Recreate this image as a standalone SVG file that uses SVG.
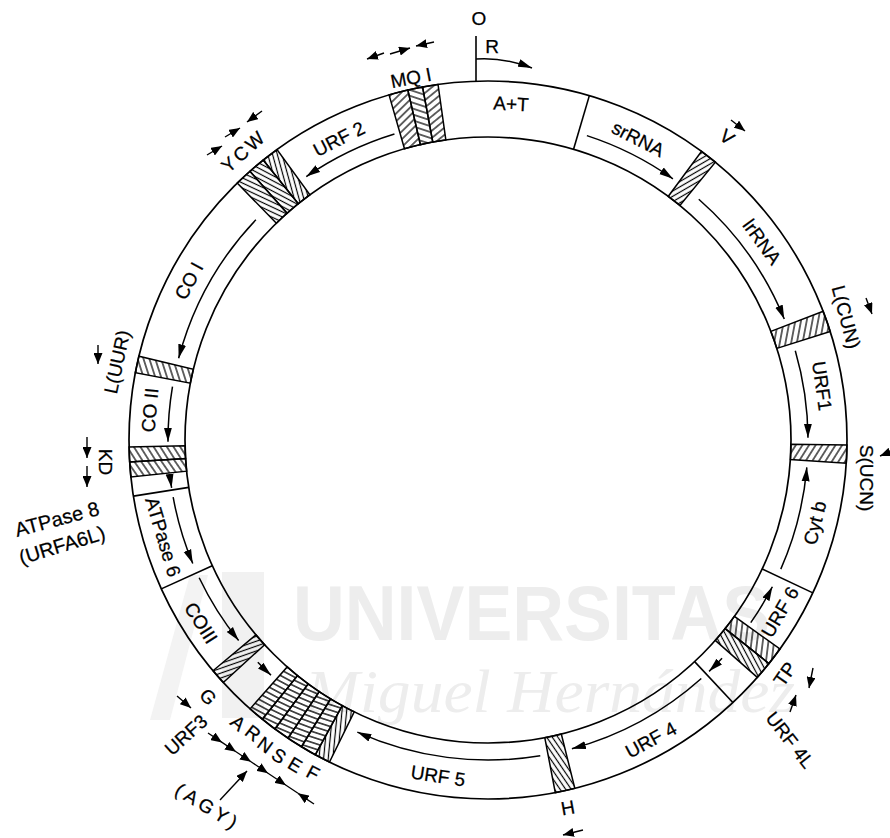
<svg xmlns="http://www.w3.org/2000/svg" width="890" height="838" viewBox="0 0 890 838">
<style>
.ring{fill:none;stroke:#000;stroke-width:1.7}
.st{stroke:#000;stroke-width:1.5}
.bd{fill:none;stroke:#000;stroke-width:1.6}
.ar{fill:none;stroke:#000;stroke-width:1.5;marker-end:url(#mb)}
.sa{fill:none;stroke:#000;stroke-width:1.4;marker-end:url(#ms)}
.t{font-family:"Liberation Sans",Arial,Helvetica,sans-serif;font-size:19px;fill:#000;stroke:#000;stroke-width:0.25;text-anchor:middle;dominant-baseline:central}
.wm{fill:#ededed}
</style>
<defs>
<marker id="mb" markerUnits="userSpaceOnUse" markerWidth="14" markerHeight="9" viewBox="0 0 14 9" refX="14" refY="4.5" orient="auto"><path d="M0,0.5 L14,4.5 L0,8.5 Z" fill="#000"/></marker>
<marker id="ms" markerUnits="userSpaceOnUse" markerWidth="11" markerHeight="9" viewBox="0 0 11 9" refX="11" refY="4.5" orient="auto"><path d="M0,0 L11,4.5 L0,9 Z" fill="#000"/></marker>
<pattern id="pA" patternUnits="userSpaceOnUse" width="4.6" height="10" patternTransform="rotate(22)"><line x1="2.3" y1="0" x2="2.3" y2="10" stroke="#000" stroke-width="1.2"/></pattern>
<pattern id="pB" patternUnits="userSpaceOnUse" width="4.6" height="10" patternTransform="rotate(-22)"><line x1="2.3" y1="0" x2="2.3" y2="10" stroke="#000" stroke-width="1.2"/></pattern>
<pattern id="pC" patternUnits="userSpaceOnUse" width="10" height="5.6" patternTransform="rotate(-30)"><line x1="0" y1="2.8" x2="10" y2="2.8" stroke="#000" stroke-width="1.2"/></pattern>
<pattern id="pD" patternUnits="userSpaceOnUse" width="10" height="5.6" patternTransform="rotate(30)"><line x1="0" y1="2.8" x2="10" y2="2.8" stroke="#000" stroke-width="1.2"/></pattern>
<pattern id="pE" patternUnits="userSpaceOnUse" width="10" height="5.2" patternTransform="rotate(-12)"><line x1="0" y1="2.6" x2="10" y2="2.6" stroke="#000" stroke-width="1.3"/></pattern>
<path id="s120" d="M480.48,81.1 A359,359 0 0 1 495.52,81.1 L494.35,137.1 A303,303 0 0 0 481.65,137.1 Z"/>
<path id="s125" d="M480.17,81.1 A359,359 0 0 1 495.83,81.1 L494.61,137.1 A303,303 0 0 0 481.39,137.1 Z"/>
<path id="s1275" d="M480.01,81.1 A359,359 0 0 1 495.99,81.1 L494.74,137.1 A303,303 0 0 0 481.26,137.1 Z"/>
<path id="s135" d="M479.54,81.1 A359,359 0 0 1 496.46,81.1 L495.14,137.1 A303,303 0 0 0 480.86,137.1 Z"/>
<path id="s1385" d="M479.32,81.1 A359,359 0 0 1 496.68,81.1 L495.32,137.1 A303,303 0 0 0 480.68,137.1 Z"/>
<path id="s140" d="M479.23,81.1 A359,359 0 0 1 496.77,81.1 L495.40,137.1 A303,303 0 0 0 480.60,137.1 Z"/>
<path id="s145" d="M478.92,81.1 A359,359 0 0 1 497.08,81.1 L495.67,137.1 A303,303 0 0 0 480.33,137.1 Z"/>
<path id="s155" d="M478.29,81.1 A359,359 0 0 1 497.71,81.1 L496.20,137.1 A303,303 0 0 0 479.80,137.1 Z"/>
<path id="s160" d="M477.98,81.1 A359,359 0 0 1 498.02,81.1 L496.46,137.1 A303,303 0 0 0 479.54,137.1 Z"/>
<path id="s170" d="M477.35,81.1 A359,359 0 0 1 498.65,81.1 L496.99,137.1 A303,303 0 0 0 479.01,137.1 Z"/>
</defs>
<rect width="890" height="838" fill="#fff"/>
<g id="watermark">
<rect x="222" y="572" width="42" height="146" fill="#f1f1f1"/>
<polygon points="150,720 190,575 208,575 170,720" fill="#f3f3f3"/>
<text x="293" y="640" font-family="Liberation Sans, Arial, sans-serif" font-weight="bold" font-size="78" textLength="477" lengthAdjust="spacingAndGlyphs" class="wm">UNIVERSITAS</text>
<text x="305" y="712" font-family="Liberation Serif, Times New Roman, serif" font-style="italic" font-size="62" textLength="490" lengthAdjust="spacingAndGlyphs" class="wm">Miguel Hernández</text>
</g>
<g id="ring">
<circle cx="488" cy="440" r="359" class="ring"/>
<circle cx="488" cy="440" r="303" class="ring"/>
</g>
<g id="boundaries">
<path class="bd" d="M573.55,149.33 L589.36,95.61"/>
<path class="bd" d="M762.16,569.01 L812.83,592.85"/>
<path class="bd" d="M694.65,661.60 L732.84,702.55"/>
<path class="bd" d="M212.27,565.65 L161.31,588.87"/>
<path class="bd" d="M188.73,487.40 L133.42,496.16"/>
</g>
<g id="origin">
<path class="bd" d="M476,36 L476,81"/>
<text class="t" transform="translate(479 18)">O</text>
<text class="t" transform="translate(492 46)">R</text>
</g>
<g id="trna-MQI">
<use href="#s155" class="st" fill="url(#pC)" transform="rotate(-14.45 488 440)"/>
<use href="#s120" class="st" fill="url(#pD)" transform="rotate(-11.7 488 440)"/>
<use href="#s125" class="st" fill="url(#pC)" transform="rotate(-9.25 488 440)"/>
<text class="t" transform="translate(411 78) rotate(-11)">MQ I</text>
</g>
<g id="AT"><text class="t" transform="translate(511 104) rotate(3)">A+T</text></g>
<g id="srRNA"><text class="t" transform="translate(638 139) rotate(27)">srRNA</text></g>
<g id="trna-V">
<use href="#s140" class="st" fill="url(#pA)" transform="rotate(37.9 488 440)"/>
<text class="t" transform="translate(727 137) rotate(38)">V</text>
</g>
<g id="lrRNA"><text class="t" transform="translate(762 242) rotate(54)">lrRNA</text></g>
<g id="trna-LCUN">
<use href="#s170" class="st" fill="url(#pD)" transform="rotate(70.7 488 440)"/>
<text class="t" transform="translate(846 317) rotate(75)">L(CUN)</text>
</g>
<g id="URF1"><text class="t" transform="translate(822 386) rotate(82)">URF1</text></g>
<g id="trna-SUCN">
<use href="#s145" class="st" fill="url(#pD)" transform="rotate(92.25 488 440)"/>
<text class="t" transform="translate(866 478) rotate(90)">S(UCN)</text>
</g>
<g id="Cytb"><text class="t" transform="translate(815 523) rotate(-76)">Cyt b</text></g>
<g id="URF6"><text class="t" transform="translate(780 612) rotate(-59.5)">URF 6</text></g>
<g id="trna-TP">
<use href="#s145" class="st" fill="url(#pC)" transform="rotate(127.05 488 440)"/>
<use href="#s145" class="st" fill="url(#pA)" transform="rotate(129.95 488 440)"/>
<text class="t" transform="translate(785 674) rotate(-55)">TP</text>
</g>
<g id="URF4L"><text class="t" transform="translate(790 740) rotate(52)">URF 4L</text></g>
<g id="URF4"><text class="t" transform="translate(651 740) rotate(-28.5)">URF 4</text></g>
<g id="trna-H">
<use href="#s160" class="st" fill="url(#pB)" transform="rotate(167.6 488 440)"/>
<text class="t" transform="translate(568 808) rotate(-10)">H</text>
</g>
<g id="URF5"><text class="t" transform="translate(438 776) rotate(8.5)">URF 5</text></g>
<g id="trna-ARNSEF">
<use href="#s1275" class="st" fill="url(#pB)" transform="rotate(207.475 488 440)"/>
<use href="#s1275" class="st" fill="url(#pE)" transform="rotate(210.025 488 440)"/>
<use href="#s1275" class="st" fill="url(#pE)" transform="rotate(212.575 488 440)"/>
<use href="#s1275" class="st" fill="url(#pE)" transform="rotate(215.125 488 440)"/>
<use href="#s1275" class="st" fill="url(#pE)" transform="rotate(217.675 488 440)"/>
<use href="#s1275" class="st" fill="url(#pE)" transform="rotate(220.225 488 440)"/>
<text class="t" transform="translate(238 723) rotate(41)">A</text>
<text class="t" transform="translate(253 733) rotate(38)">R</text>
<text class="t" transform="translate(265 745) rotate(36)">N</text>
<text class="t" transform="translate(279 756) rotate(34)">S</text>
<text class="t" transform="translate(295 765) rotate(31)">E</text>
<text class="t" transform="translate(313 773) rotate(28)">F</text>
<text class="t" transform="translate(208 807) rotate(31.5)" letter-spacing="4">(AGY)</text>
</g>
<g id="URF3"><text class="t" transform="translate(186 735) rotate(-42)">URF3</text></g>
<g id="trna-G">
<use href="#s125" class="st" fill="url(#pA)" transform="rotate(228.75 488 440)"/>
<text class="t" transform="translate(208 697) rotate(48)">G</text>
</g>
<g id="COIII"><text class="t" transform="translate(201 623) rotate(57.5)">COIII</text></g>
<g id="ATPase6"><text class="t" transform="translate(163 537) rotate(73.4)">ATPase 6</text></g>
<g id="ATPase8">
<text class="t" transform="translate(57 519) rotate(-15)" style="font-size:20px">ATPase 8</text>
<text class="t" transform="translate(62 545) rotate(-17)" style="font-size:20px">(URFA6L)</text>
</g>
<g id="trna-KD">
<use href="#s120" class="st" fill="url(#pC)" transform="rotate(265.3 488 440)"/>
<use href="#s120" class="st" fill="url(#pC)" transform="rotate(267.7 488 440)"/>
<text class="t" transform="translate(105 462) rotate(90)">KD</text>
</g>
<g id="COII"><text class="t" transform="translate(150 410) rotate(-85)">CO II</text></g>
<g id="trna-LUUR">
<use href="#s135" class="st" fill="url(#pC)" transform="rotate(282.15 488 440)"/>
<text class="t" transform="translate(117 362) rotate(-78)">L(UUR)</text>
</g>
<g id="COI"><text class="t" transform="translate(189 281) rotate(-62)">CO I</text></g>
<g id="trna-YCW">
<use href="#s1385" class="st" fill="url(#pB)" transform="rotate(317.08 488 440)"/>
<use href="#s1385" class="st" fill="url(#pB)" transform="rotate(319.85 488 440)"/>
<use href="#s1385" class="st" fill="url(#pA)" transform="rotate(322.62 488 440)"/>
<text class="t" transform="translate(244 151) rotate(-42)" letter-spacing="3">YCW</text>
</g>
<g id="URF2"><text class="t" transform="translate(339 139) rotate(-27)">URF 2</text></g>
<g id="connectors">
<path class="ar" d="M586.89,135.66 A320,320 0 0 1 672.92,178.83"/>
<path class="ar" d="M698.78,199.23 A320,320 0 0 1 784.28,319.09"/>
<path class="ar" d="M795.29,350.72 A320,320 0 0 1 807.99,437.77"/>
<path class="ar" d="M780.79,569.14 A320,320 0 0 0 806.83,467.33"/>
<path class="ar" d="M750.77,622.63 A320,320 0 0 0 772.36,586.77"/>
<path class="ar" d="M722.03,658.24 A320,320 0 0 1 709.08,671.35"/>
<path class="ar" d="M701.29,678.55 A320,320 0 0 1 571.90,748.81"/>
<path class="ar" d="M540.27,755.70 A320,320 0 0 1 357.33,732.11"/>
<path class="ar" d="M257.81,662.29 A320,320 0 0 0 270.99,675.17"/>
<path class="ar" d="M199.17,577.76 A320,320 0 0 0 238.61,640.51"/>
<path class="ar" d="M173.16,497.22 A320,320 0 0 0 192.77,563.49"/>
<path class="ar" d="M169.81,474.00 A320,320 0 0 0 171.60,487.85"/>
<path class="ar" d="M172.48,386.63 A320,320 0 0 0 168.00,441.68"/>
<path class="ar" d="M255.88,219.73 A320,320 0 0 0 178.62,358.26"/>
<path class="ar" d="M394.44,133.98 A320,320 0 0 0 306.29,176.60"/>
<path class="ar" d="M476,59 Q503,57 532,68"/>
<path class="sa" d="M384,53 L367,59"/>
<path class="sa" d="M390,54 L410,48"/>
<path class="sa" d="M434,42 L416,46"/>
<path class="sa" d="M207,155 L222,146"/>
<path class="sa" d="M225,137 L240,128"/>
<path class="sa" d="M262,111 L247,122"/>
<path class="sa" d="M731,120 L745,131"/>
<path class="sa" d="M866,298 L872,314"/>
<path class="sa" d="M890,452 L880,456"/>
<path class="sa" d="M813,668 L809,688"/>
<path class="sa" d="M790,712 L796,695"/>
<path class="sa" d="M583,830 L563,835"/>
<path class="sa" d="M98,345 L98,364"/>
<path class="sa" d="M87,437 L87,458"/>
<path class="sa" d="M87,466 L87,487"/>
<path class="sa" d="M177,696 L191,708"/>
<path d="M208,733 L222,742.4 L236,751.8 L251,761.8 L268,773.2 L286,785.3 L298,793.3" fill="none" stroke="#000" stroke-width="1.3" marker-mid="url(#ms)"/>
<path class="sa" d="M314,804 L298,793.3"/>
<path class="sa" d="M220,800 L247,771"/>
</g>
</svg>
